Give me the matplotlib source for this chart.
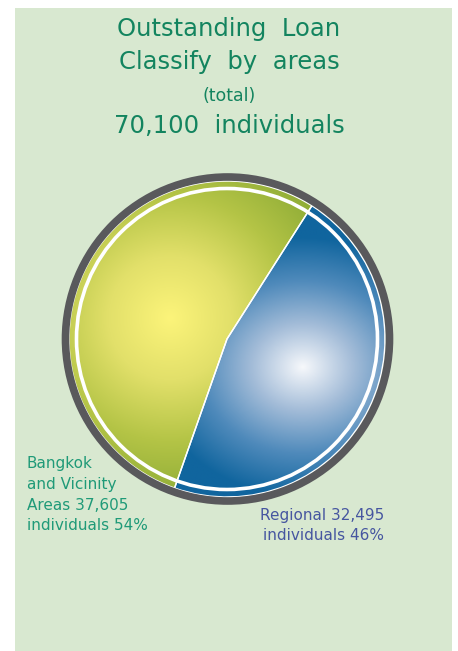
import numpy as np
import matplotlib.pyplot as plt
from matplotlib.patches import Rectangle, Circle
from matplotlib.colors import LinearSegmentedColormap

# Outstanding loans by area (individuals)
areas = ['Bangkok and Vicinity Areas', 'Regional']
counts = [37605, 32495]
total = 70100
shares = [54, 46]

title_lines = ['Outstanding  Loan', 'Classify  by  areas', '(total)',
               f'{total:,}  individuals']

W, H = 458, 651
fig = plt.figure(figsize=(W / 100, H / 100), dpi=100)
ax = fig.add_axes([0, 0, 1, 1])

# pie centre / size in pixel units (y measured upward)
cx, cy = 227, 651 - 339
r_pie = 158

wedges, _ = ax.pie(counts, colors=['#a6bd40', '#2a78b0'], startangle=57.5,
                   counterclock=True, center=(cx, cy), radius=r_pie,
                   wedgeprops=dict(edgecolor='white', linewidth=1.0),
                   frame=True)

ax.set_xlim(0, W)
ax.set_ylim(0, H)
ax.set_aspect('equal')
ax.axis('off')

# page background panel
ax.add_patch(Rectangle((15, 0), 437, H - 8, facecolor='#d8e8d0',
                       edgecolor='none', zorder=0))

# radial gradient fills clipped to each wedge
xs = np.linspace(cx - r_pie, cx + r_pie, 400)
ys = np.linspace(cy - r_pie, cy + r_pie, 400)
gx, gy = np.meshgrid(xs, ys)
extent = (xs[0], xs[-1], ys[0], ys[-1])

green_cmap = LinearSegmentedColormap.from_list(
    'g', ['#fcf47a', '#e2e06a', '#b4c446', '#8dab36'])
blue_cmap = LinearSegmentedColormap.from_list(
    'b', ['#f6f8fb', '#a3bcd8', '#4f8abb', '#10659e'])

d_green = np.hypot(gx - 170, gy - (651 - 318)) / 185
d_blue = np.hypot((gx - 303) * 0.85, (gy - (651 - 367)) * 1.0) / 130

for wedge, dist, cmap in [(wedges[0], d_green, green_cmap),
                          (wedges[1], d_blue, blue_cmap)]:
    im = ax.imshow(np.clip(dist, 0, 1), cmap=cmap, vmin=0, vmax=1,
                   extent=extent, origin='lower', zorder=2,
                   interpolation='bilinear')
    im.set_clip_path(wedge)

# white divider lines along the wedge edges
for wedge in wedges:
    wedge.set_facecolor('none')
    wedge.set_zorder(3)

# dark outer ring and inner white ring
ax.add_patch(Circle((cx + 0.5, cy), 162, fill=False, edgecolor='#59595c',
                    linewidth=5.5, zorder=4))
ax.add_patch(Circle((cx, cy), 150.5, fill=False, edgecolor='white',
                    linewidth=2.6, zorder=4))

# title
title_color = '#13845f'
ax.text(229, H - 29, title_lines[0], ha='center', va='center',
        fontsize=17.5, color=title_color)
ax.text(229, H - 62, title_lines[1], ha='center', va='center',
        fontsize=17.5, color=title_color)
ax.text(229, H - 96, title_lines[2], ha='center', va='center',
        fontsize=12.5, color=title_color)
ax.text(229, H - 126, title_lines[3], ha='center', va='center',
        fontsize=17.5, color=title_color)

# slice labels
ax.text(27, H - 456,
        f'Bangkok\nand Vicinity\nAreas {counts[0]:,}\nindividuals {shares[0]}%',
        ha='left', va='top', fontsize=11, color='#1f9a78', linespacing=1.48)
ax.text(384, H - 508,
        f'Regional {counts[1]:,}\nindividuals {shares[1]}%',
        ha='right', va='top', fontsize=11, color='#4656a0', linespacing=1.45)

fig.savefig('out.png', dpi=100, facecolor='white')
